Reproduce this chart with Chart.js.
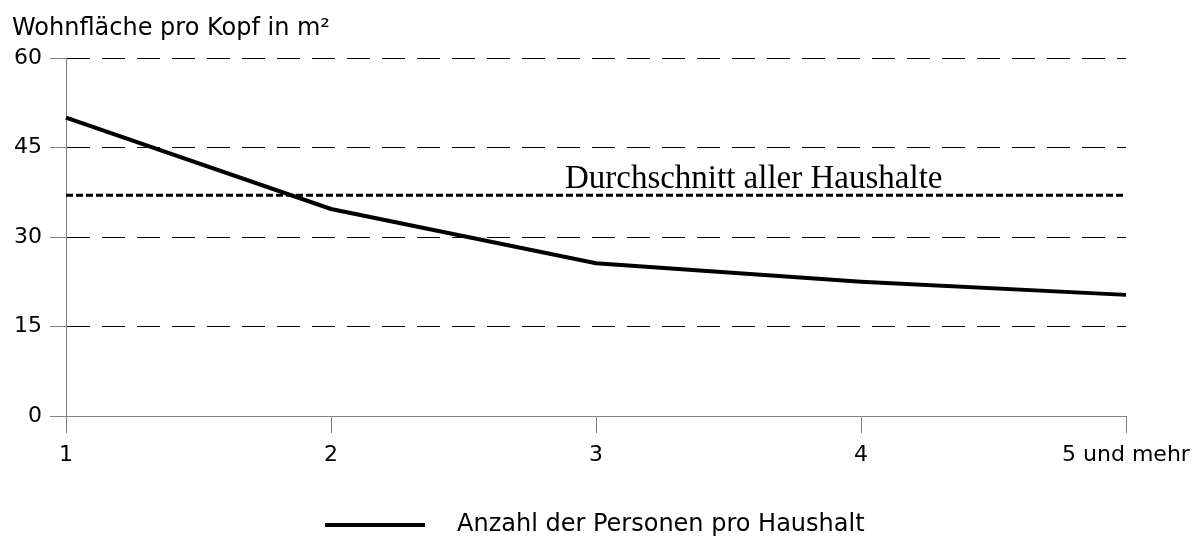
<!DOCTYPE html>
<html>
<head>
<meta charset="utf-8">
<script src="https://cdn.jsdelivr.net/npm/chart.js@4.4.1/dist/chart.umd.min.js"></script>
<style>
  html, body { margin: 0; padding: 0; background: #ffffff; }
  #wrap { width: 1200px; height: 540px; position: relative; }
</style>
</head>
<body>
<div id="wrap"><canvas id="c" width="1200" height="540"></canvas></div>
<script>
// ---- data ----
const categories = ['1', '2', '3', '4', '5 und mehr'];
const wohnflaeche = [50.0, 34.7, 25.6, 22.5, 20.3];
const durchschnittWert = 37.0;
const durchschnitt = categories.map(() => durchschnittWert);
const yTicks = [0, 15, 30, 45, 60];
const titleText = 'Wohnfläche pro Kopf in m²';
const avgLabel = 'Durchschnitt aller Haushalte';
const legendLabel = 'Anzahl der Personen pro Haushalt';

const SANS = "'DejaVu Sans', 'Liberation Sans', Arial, sans-serif";
const SERIF = "'Liberation Serif', 'Times New Roman', serif";
const AXIS_GRAY = '#808080';

const textPlugin = {
  id: 'textPlugin',
  afterDraw(chart) {
    const ctx = chart.ctx;
    const xs = chart.scales.x, ys = chart.scales.y;
    ctx.save();
    // title
    ctx.fillStyle = '#000';
    ctx.font = '24px ' + SANS;
    ctx.textAlign = 'left';
    ctx.textBaseline = 'middle';
    ctx.fillText(titleText, 12, 29);
    // average label
    const x2 = xs.getPixelForValue(2), x3 = xs.getPixelForValue(3);
    const cx = x2 + 0.595 * (x3 - x2);
    ctx.font = '33px ' + SERIF;
    ctx.textAlign = 'center';
    ctx.textBaseline = 'alphabetic';
    ctx.fillText(avgLabel, cx, ys.getPixelForValue(durchschnittWert) - 7);
    // legend
    const ly = 525;
    ctx.strokeStyle = '#000';
    ctx.lineWidth = 4;
    ctx.setLineDash([]);
    ctx.beginPath();
    ctx.moveTo(325, ly);
    ctx.lineTo(425, ly);
    ctx.stroke();
    ctx.font = '24px ' + SANS;
    ctx.textAlign = 'left';
    ctx.textBaseline = 'middle';
    ctx.fillText(legendLabel, 457, ly);
    ctx.restore();
  }
};

new Chart(document.getElementById('c'), {
  type: 'line',
  data: {
    labels: categories,
    datasets: [
      {
        label: legendLabel,
        data: wohnflaeche,
        borderColor: '#000',
        borderWidth: 4,
        pointRadius: 0,
        tension: 0,
        fill: false
      },
      {
        label: avgLabel,
        data: durchschnitt,
        borderColor: '#000',
        borderWidth: 3,
        borderDash: [7, 3],
        pointRadius: 0,
        tension: 0,
        fill: false
      }
    ]
  },
  options: {
    responsive: false,
    animation: false,
    devicePixelRatio: 1,
    layout: { padding: { left: 0, right: 74, top: 58, bottom: 0 } },
    plugins: {
      legend: { display: false },
      title: { display: false },
      tooltip: { enabled: false }
    },
    scales: {
      x: {
        type: 'category',
        offset: false,
        afterFit(scale) { scale.height = 124; },
        grid: {
          drawOnChartArea: false,
          drawTicks: true,
          tickLength: 17,
          tickColor: AXIS_GRAY,
          lineWidth: 1
        },
        border: { display: true, color: AXIS_GRAY, width: 1 },
        ticks: {
          color: '#000',
          font: { family: SANS, size: 22 },
          padding: 9,
          maxRotation: 0,
          autoSkip: false
        }
      },
      y: {
        min: 0,
        max: 60,
        afterFit(scale) { scale.width = 66; },
        afterBuildTicks(scale) { scale.ticks = yTicks.map(v => ({ value: v })); },
        grid: {
          color: (ctx) => (ctx.tick && ctx.tick.value === 0) ? 'rgba(0,0,0,0)' : '#000',
          lineWidth: 1,
          tickLength: 16,
          tickColor: AXIS_GRAY,
          tickBorderDash: []
        },
        border: { display: true, color: AXIS_GRAY, width: 1, dash: [23, 12] },
        ticks: {
          color: '#000',
          font: { family: SANS, size: 22 },
          padding: 8
        }
      }
    }
  },
  plugins: [textPlugin]
});
</script>
</body>
</html>
